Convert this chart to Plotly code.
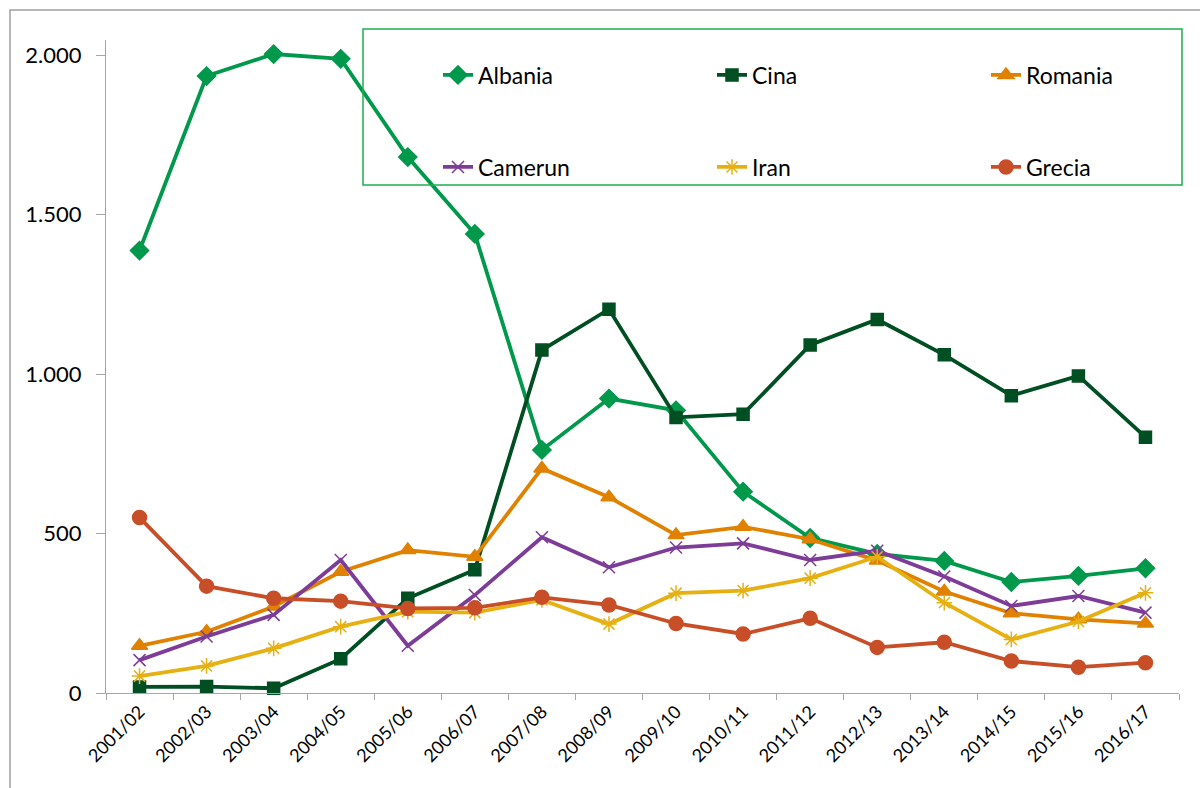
import plotly.graph_objects as go

# Academic years
years = ["2001/02", "2002/03", "2003/04", "2004/05", "2005/06", "2006/07",
         "2007/08", "2008/09", "2009/10", "2010/11", "2011/12", "2012/13",
         "2013/14", "2014/15", "2015/16", "2016/17"]

# Student counts by country of origin
albania = [1387, 1934, 2003, 1988, 1680, 1439, 762, 923, 886, 631, 486, 436, 414, 348, 367, 391]
cina = [19, 20, 15, 107, 297, 386, 1075, 1203, 864, 874, 1091, 1171, 1060, 932, 994, 802]
romania = [148, 192, 271, 380, 448, 427, 704, 614, 495, 521, 482, 415, 318, 250, 231, 218]
camerun = [103, 177, 245, 417, 148, 307, 488, 394, 456, 469, 417, 446, 365, 273, 304, 252]
iran = [53, 85, 140, 208, 255, 252, 292, 216, 313, 321, 360, 427, 283, 168, 224, 314]
grecia = [550, 335, 297, 288, 265, 267, 300, 276, 218, 185, 234, 143, 159, 100, 81, 95]

series = [
    ("Albania", albania, "#00994C", "diamond", 14, "legend"),
    ("Cina", cina, "#004F22", "square", 12, "legend"),
    ("Romania", romania, "#E08100", "triangle-up", 14, "legend"),
    ("Camerun", camerun, "#7D3C98", "x-thin-open", 12, "legend2"),
    ("Iran", iran, "#E6B012", "asterisk-open", 13, "legend2"),
    ("Grecia", grecia, "#C84E28", "circle", 14, "legend2"),
]

W, H = 1200, 788
ML, MR, MT, MB = 106, 21, 40, 95
PW, PH = W - ML - MR, H - MT - MB


def px_x(x):
    return (x - ML) / PW


def px_y(y):
    return (H - MB - y) / PH


fig = go.Figure()
for name, vals, color, symbol, size, leg in series:
    fig.add_trace(go.Scatter(
        x=years, y=vals, name=name, mode="lines+markers",
        line=dict(color=color, width=3.8),
        marker=dict(symbol=symbol, size=size, color=color,
                    line=dict(color=color, width=1.5)),
        legend=leg, cliponaxis=False,
    ))

axis_grey = "#A6A6A6"
font_family = "Lato, 'Open Sans', sans-serif"

legend_common = dict(
    orientation="h", xanchor="left", yanchor="middle",
    entrywidth=229, bgcolor="rgba(0,0,0,0)", borderwidth=0,
    font=dict(family=font_family, size=23, color="#000000"),
)

fig.update_layout(
    width=W, height=H,
    margin=dict(l=ML, r=MR, t=MT, b=MB, autoexpand=False),
    paper_bgcolor="white", plot_bgcolor="white",
    separators=",.",
    font=dict(family=font_family, color="#000000"),
    showlegend=True,
    legend=dict(x=px_x(438), y=px_y(75), **legend_common),
    legend2=dict(x=px_x(438), y=px_y(167), **legend_common),
    xaxis=dict(
        type="category", range=[-0.5, len(years) - 0.5],
        tickson="boundaries", ticks="outside", ticklen=6,
        tickcolor=axis_grey, showline=True, linecolor=axis_grey, linewidth=1.3,
        showgrid=False, tickangle=-45,
        tickfont=dict(family=font_family, size=18, color="#000000"),
    ),
    yaxis=dict(
        range=[0, 2000 * PH / (H - MB - 55)],
        tickvals=[0, 500, 1000, 1500, 2000], tickformat=",d",
        ticks="outside", ticklen=9, tickcolor=axis_grey,
        showline=True, linecolor=axis_grey, linewidth=1.3,
        showgrid=False, zeroline=False, ticklabelstandoff=10,
        tickfont=dict(family=font_family, size=22, color="#000000"),
    ),
    shapes=[
        # legend frame
        dict(type="rect", xref="paper", yref="paper",
             x0=px_x(363), x1=px_x(1182), y0=px_y(185), y1=px_y(29),
             line=dict(color="#1DB04F", width=1.5), fillcolor="rgba(0,0,0,0)"),
        # outer chart frame
        dict(type="rect", xref="paper", yref="paper",
             x0=px_x(10), x1=px_x(1215), y0=px_y(805), y1=px_y(10),
             line=dict(color="#A0A0A0", width=1.5), fillcolor="rgba(0,0,0,0)"),
    ],
)

fig.write_html("out.html")
